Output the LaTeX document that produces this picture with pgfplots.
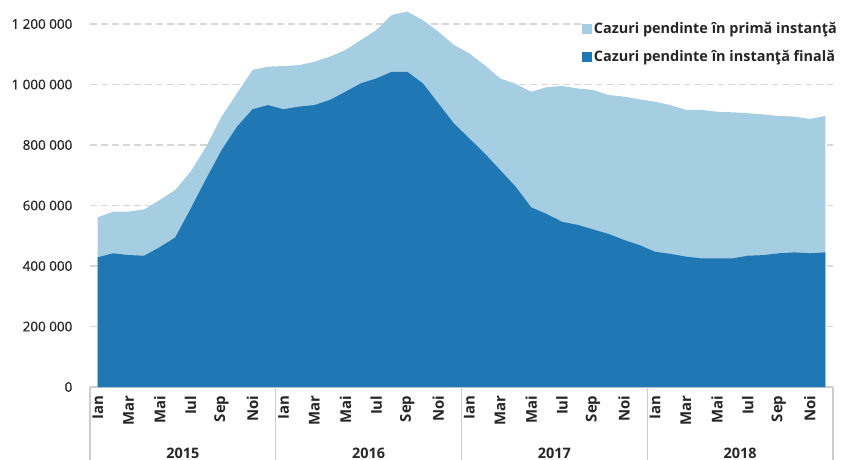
\documentclass[border=0pt]{standalone}
\usepackage{pgfplots}
\pgfplotsset{compat=1.18}
\usepackage{fontspec}
\setmainfont{Open Sans}
\newfontfamily\semib[FakeBold=0.6]{Open Sans}
\definecolor{lightb}{RGB}{166,206,227}
\definecolor{darkb}{RGB}{31,120,180}
\definecolor{txt}{RGB}{38,38,38}
\definecolor{sep}{RGB}{205,205,205}
\definecolor{gridc}{RGB}{215,215,215}
\begin{document}
\begin{tikzpicture}
\useasboundingbox (-90bp,-73bp) rectangle (752bp,387bp);
\begin{axis}[
  at={(0,0)}, anchor=south west,
  scale only axis, width=743bp, height=381.15bp,
  xmin=-0.5, xmax=47.5, ymin=0, ymax=1260000,
  axis lines=left, axis line style={-},
  y axis line style={draw=none},
  x axis line style={sep, line width=1.2bp},
  ymajorgrids, grid style={gridc, line width=1.2bp, dash pattern=on 7bp off 4bp},
  ytick={0,200000,400000,600000,800000,1000000,1200000},
  yticklabels={0,200 000,400 000,600 000,800 000,1 000 000,1 200 000},
  ytick style={draw=none}, xtick style={draw=none},
  yticklabel style={font=\fontsize{13.5}{15}\selectfont\semib, text=txt},
  yticklabel shift=12bp,
  xtick={0,2,...,46},
  xticklabels={Ian,Mar,Mai,Iul,Sep,Noi,Ian,Mar,Mai,Iul,Sep,Noi,Ian,Mar,Mai,Iul,Sep,Noi,Ian,Mar,Mai,Iul,Sep,Noi},
  xticklabel style={rotate=90, anchor=east, font=\fontsize{15}{16}\selectfont\bfseries, text=txt},
  xticklabel shift=3bp,
  /pgf/number format/assume math mode=true,
  clip=false,
  legend cell align=left,
  legend style={at={(rel axis cs:1.0094,0.9655)}, anchor=north east, draw=none, fill=white,
    font=\fontsize{14.5}{16}\selectfont\bfseries, text=txt, row sep=12bp, inner sep=1bp},
]
\addplot[fill=lightb, draw=none, area legend,
  legend image code/.code={\fill[lightb] (0bp,-5bp) rectangle (10bp,5bp);}] table {
x y
0 561000
1 580000
2 580000
3 587000
4 618000
5 651000
6 712000
7 794000
8 894000
9 971000
10 1048000
11 1059000
12 1061000
13 1064000
14 1075000
15 1092000
16 1114000
17 1147000
18 1180000
19 1230000
20 1241000
21 1213000
22 1175000
23 1131000
24 1103000
25 1064000
26 1020000
27 1002000
28 976000
29 991000
30 995000
31 987000
32 982000
33 965000
34 960000
35 951000
36 943000
37 932000
38 916000
39 916000
40 910000
41 908000
42 905000
43 901000
44 896000
45 894000
46 886000
47 896000
} \closedcycle;
\addlegendentry{Cazuri pendinte în primă instanţă}
\addplot[fill=darkb, draw=none, area legend,
  legend image code/.code={\fill[darkb] (0bp,-5bp) rectangle (10bp,5bp);}] table {
x y
0 429000
1 442000
2 436000
3 434000
4 462000
5 494000
6 589000
7 688000
8 783000
9 861000
10 918000
11 932000
12 918000
13 927000
14 932000
15 949000
16 976000
17 1004000
18 1020000
19 1042000
20 1042000
21 1004000
22 938000
23 872000
24 822000
25 772000
26 717000
27 662000
28 594000
29 572000
30 546000
31 536000
32 521000
33 506000
34 486000
35 469000
36 447000
37 440000
38 431000
39 425000
40 425000
41 425000
42 434000
43 436000
44 442000
45 445000
46 442000
47 445000
} \closedcycle;
\addlegendentry{Cazuri pendinte în instanţă finală}
\draw[sep, line width=1.2bp] (axis cs:-0.5,0) -- ++(0bp,-75bp);
\draw[sep, line width=1.2bp] (axis cs:11.5,0) -- ++(0bp,-75bp);
\draw[sep, line width=1.2bp] (axis cs:23.5,0) -- ++(0bp,-75bp);
\draw[sep, line width=1.2bp] (axis cs:35.5,0) -- ++(0bp,-75bp);
\draw[sep, line width=1.2bp] (axis cs:47.5,0) -- ++(0bp,-75bp);
\node[font=\fontsize{14.5}{16}\selectfont\bfseries, text=txt] at ([yshift=-66bp]axis cs:5.5,0) {2015};
\node[font=\fontsize{14.5}{16}\selectfont\bfseries, text=txt] at ([yshift=-66bp]axis cs:17.5,0) {2016};
\node[font=\fontsize{14.5}{16}\selectfont\bfseries, text=txt] at ([yshift=-66bp]axis cs:29.5,0) {2017};
\node[font=\fontsize{14.5}{16}\selectfont\bfseries, text=txt] at ([yshift=-66bp]axis cs:41.5,0) {2018};
\end{axis}
\end{tikzpicture}
\end{document}
